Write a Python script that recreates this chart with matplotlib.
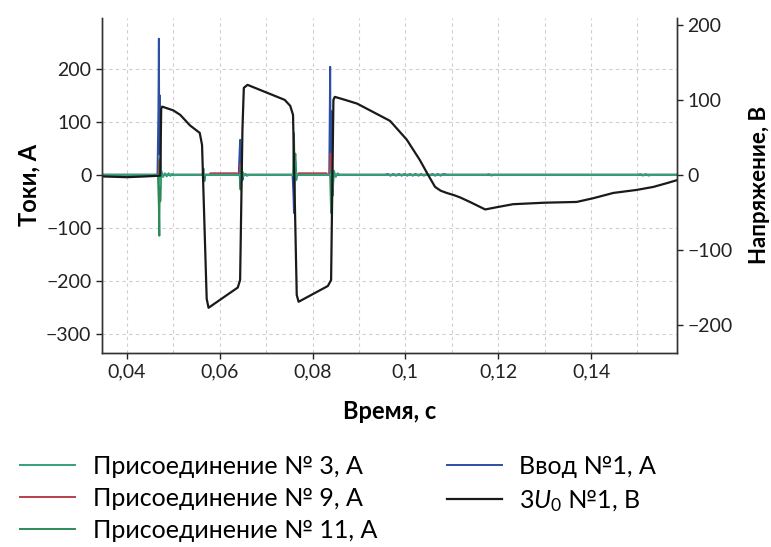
import matplotlib
matplotlib.use("Agg")
import matplotlib.pyplot as plt
from matplotlib.ticker import FuncFormatter, MultipleLocator

plt.rcParams['font.family'] = ['Lato', 'DejaVu Sans']
plt.rcParams['mathtext.fontset'] = 'custom'
plt.rcParams['mathtext.rm'] = 'Lato'
plt.rcParams['mathtext.it'] = 'Lato:italic'

# 3U0, V (right axis)
t_u = [0.0346, 0.040, 0.044, 0.0472, 0.0474, 0.0476, 0.0500, 0.0515, 0.0536, 0.0557, 0.0562,
       0.0572, 0.0576, 0.0639, 0.0644, 0.0649, 0.0652, 0.0660, 0.0700, 0.0740, 0.0752,
       0.0758, 0.0766, 0.0770, 0.0833, 0.0840, 0.0845, 0.0848, 0.0870, 0.0896, 0.0930,
       0.0967, 0.1003, 0.1031, 0.1049, 0.1064, 0.1076, 0.1089, 0.1105, 0.1118, 0.1139,
       0.1172, 0.1197, 0.1232, 0.1300, 0.1369, 0.1405, 0.1448, 0.1498, 0.1534, 0.1563,
       0.1585]
u0 = [-2, -3, -2, -1, 88, 91, 86, 80, 66, 56, 40,
      -165, -177, -150, -140, 60, 116, 120, 110, 100, 92,
      80, -160, -169, -148, -140, 100, 104, 100, 95, 84,
      72, 47, 20, 0, -16, -21, -24, -27, -30, -36,
      -46, -43, -39, -37, -36, -31, -24, -20, -16, -11,
      -7]

# Ввод №1, A
t_in1 = [0.0346, 0.0466, 0.0468, 0.0469, 0.0470, 0.0471, 0.0473, 0.0475,
         0.0641, 0.0643, 0.0644, 0.0645, 0.0647, 0.0649, 0.0651,
         0.0757, 0.0759, 0.0760, 0.0762, 0.0764,
         0.0836, 0.0837, 0.0838, 0.0839, 0.0841, 0.0843, 0.0845,
         0.0956, 0.0962, 0.0968, 0.0974, 0.0980, 0.0986, 0.0992, 0.0998, 0.1004, 0.1010,
         0.1016, 0.1022, 0.1028, 0.1034, 0.1040, 0.1046, 0.1052, 0.1058, 0.1064, 0.1070,
         0.1076, 0.1082, 0.1090, 0.1585]
i_in1 = [0, 0, 120, 257, 40, 150, 10, 0,
         0, 45, 66, -20, 30, -10, 0,
         0, -40, -72, 10, 0,
         0, 100, 204, 30, 120, -20, 0,
         0, 1.5, -1.5, 1.5, -1.5, 1.5, -1.5, 1.5, -1.5, 1.5,
         -1.5, 1.5, -1.5, 1.5, -1.5, 1.5, -1.5, 1.5, -1.5, 1.5,
         -1.5, 1.5, 0, 0]

# Присоединение № 9, A
t_p9 = [0.0346, 0.0468, 0.0470, 0.0472, 0.0474,
        0.0578, 0.0580, 0.0637, 0.0639,
        0.0643, 0.0645, 0.0647, 0.0649,
        0.0768, 0.0770, 0.0830, 0.0832,
        0.0837, 0.0839, 0.0841, 0.0843, 0.0845, 0.1585]
i_p9 = [0, 0, 28, -10, 0,
        0, 3, 3, 0,
        0, 20, -8, 0,
        0, 3, 3, 0,
        0, 40, 15, -10, 0, 0]

# Присоединение № 11, A
t_p11 = [0.0346, 0.0467, 0.0469, 0.0470, 0.0471, 0.0472, 0.0474, 0.0477, 0.0480,
         0.0563, 0.0565, 0.0567, 0.0569,
         0.0643, 0.0645, 0.0646, 0.0648, 0.0650, 0.0653,
         0.0758, 0.0760, 0.0761, 0.0763, 0.0765,
         0.0838, 0.0840, 0.0841, 0.0843, 0.0845, 0.0848, 0.1585]
i_p11 = [0, 0, -60, -115, 30, -50, 5, -3, 0,
         0, 12, -12, 0,
         0, -28, 15, -10, 3, 0,
         0, 79, 20, 40, 0,
         0, -72, 10, -40, 5, 0, 0]

# Присоединение № 3, A
t_p3 = [0.0346, 0.0470, 0.0472, 0.0474, 0.0478, 0.0482, 0.0486, 0.0490, 0.0494, 0.0498,
        0.0502, 0.0506, 0.0645, 0.0647, 0.0649, 0.0651, 0.0655, 0.0659, 0.0663,
        0.0761, 0.0763, 0.0765, 0.0767, 0.0842, 0.0844, 0.0846, 0.0850, 0.0854, 0.0858,
        0.1175, 0.1180, 0.1185, 0.1190, 0.1500, 0.1506, 0.1512, 0.1518, 0.1524, 0.1530,
        0.1585]
i_p3 = [0, 0, -20, 8, -4, 3, -3, 3, -2, 2,
        -1, 0, 0, -12, 6, -3, 2, -2, 0,
        0, 25, -10, 0, 0, -25, 8, -4, 3, 0,
        0, 1.5, -1.5, 0, 0, 1.5, -1.5, 1.5, -1.5, 0,
        0]

x_ticks = [0.04, 0.06, 0.08, 0.1, 0.12, 0.14]
i_ticks = [-300, -200, -100, 0, 100, 200]
u_ticks = [-200, -100, 0, 100, 200]

c_p3 = '#35a07c'
c_p9 = '#b8404c'
c_p11 = '#2f8a58'
c_in1 = '#2c4fa3'
c_u = '#1a1a1a'

fig = plt.figure(figsize=(7.71, 5.47), dpi=100)
ax = fig.add_axes([0.132, 0.355, 0.746, 0.612])
ax2 = ax.twinx()

l_in1, = ax.plot(t_in1, i_in1, color=c_in1, lw=1.4, label='Ввод №1, А')
l_p9, = ax.plot(t_p9, i_p9, color=c_p9, lw=1.4, label='Присоединение № 9, А')
l_p11, = ax.plot(t_p11, i_p11, color=c_p11, lw=1.4, label='Присоединение № 11, А')
l_p3, = ax.plot(t_p3, i_p3, color=c_p3, lw=1.4, label='Присоединение № 3, А')
l_u, = ax2.plot(t_u, u0, color=c_u, lw=1.6, label='3$\\mathit{U}_0$ №1, В')

ax.set_xlim(0.0346, 0.1585)
ax.set_ylim(-336, 296)
ax2.set_ylim(-237, 209)

ax.set_xticks(x_ticks)
ax.xaxis.set_minor_locator(MultipleLocator(0.01))
ax.set_yticks(i_ticks)
ax2.set_yticks(u_ticks)
ax.xaxis.set_major_formatter(FuncFormatter(lambda v, p: f'{v:g}'.replace('.', ',')))

ax.grid(True, which='both', axis='x', color='#cfcfcf', lw=0.8, ls=(0, (3, 3)))
ax.grid(True, which='major', axis='y', color='#cfcfcf', lw=0.8, ls=(0, (3, 3)))
ax.tick_params(axis='x', which='minor', length=0)
ax.tick_params(axis='both', which='major', labelsize=14, length=4, width=1, colors='#222222')
ax2.tick_params(axis='y', labelsize=14, length=4, width=1, colors='#222222')

for a in (ax, ax2):
    a.spines['top'].set_visible(False)
    for s in ('left', 'right', 'bottom'):
        a.spines[s].set_linewidth(1.0)
        a.spines[s].set_color('#333333')

ax.set_xlabel('Время, с', fontsize=17, fontweight='bold', labelpad=14)
ax.set_ylabel('Токи, А', fontsize=17, fontweight='bold', labelpad=4)
ax2.set_ylabel('Напряжение, В', fontsize=16, fontweight='bold', labelpad=12)

fig.legend(handles=[l_p3, l_p9, l_p11, l_in1, l_u], ncol=2, loc='upper left',
           bbox_to_anchor=(0.026, 0.168), frameon=False, fontsize=18,
           handlelength=2.2, handletextpad=0.7, columnspacing=2.8,
           labelspacing=0.36, borderaxespad=0, borderpad=0)

fig.savefig('out.png', dpi=100)
